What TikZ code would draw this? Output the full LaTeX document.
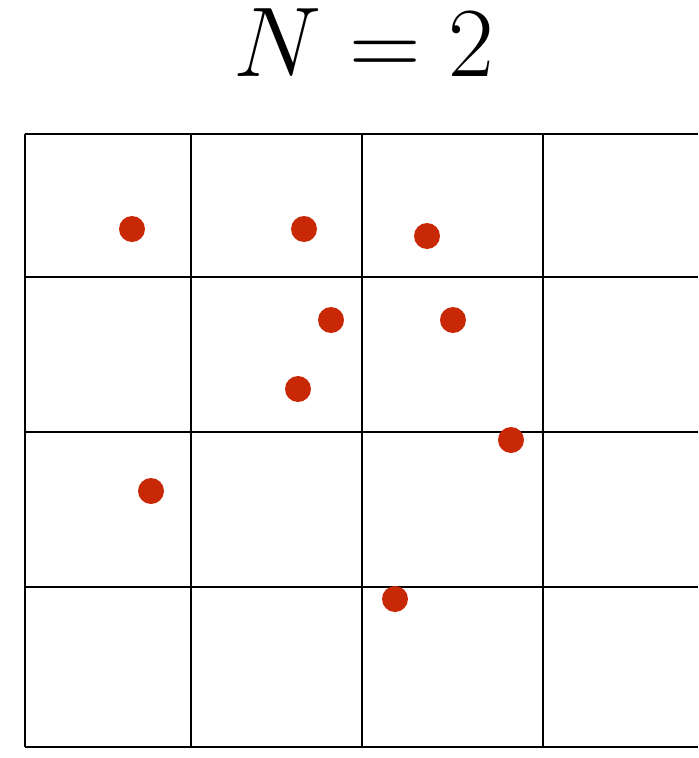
\documentclass[tikz,border=0pt]{standalone}
\usepackage{tikz}
\usetikzlibrary{positioning}

\definecolor{dotred}{RGB}{200,40,5}
\tikzset{
  gridline/.style={line width=1.4pt, black},
  pt/.style={circle, fill=dotred, inner sep=0pt, minimum size=0.52cm}
}

\begin{document}
\begin{tikzpicture}[x=0.02cm,y=-0.02cm]
    \useasboundingbox (0,0) rectangle (698,758);

    % Title
    \node[font=\Huge, scale=2.27, inner sep=0pt, anchor=base] (title) at (364,76) {$N=2$};

    % Grid
    \foreach \y in {134,277,432,587,747}
        \draw[gridline] (25,\y) -- (698,\y);
    \foreach \x in {25,191,362,543}
        \draw[gridline] (\x,134) -- (\x,747);

    % Points
    \foreach \x/\y [count=\i] in {132/229,304/229,427/236,331/320,453/320,298/389,511/440,151/491,395/599}
        \node[pt] (p\i) at (\x,\y) {};
\end{tikzpicture}
\end{document}
